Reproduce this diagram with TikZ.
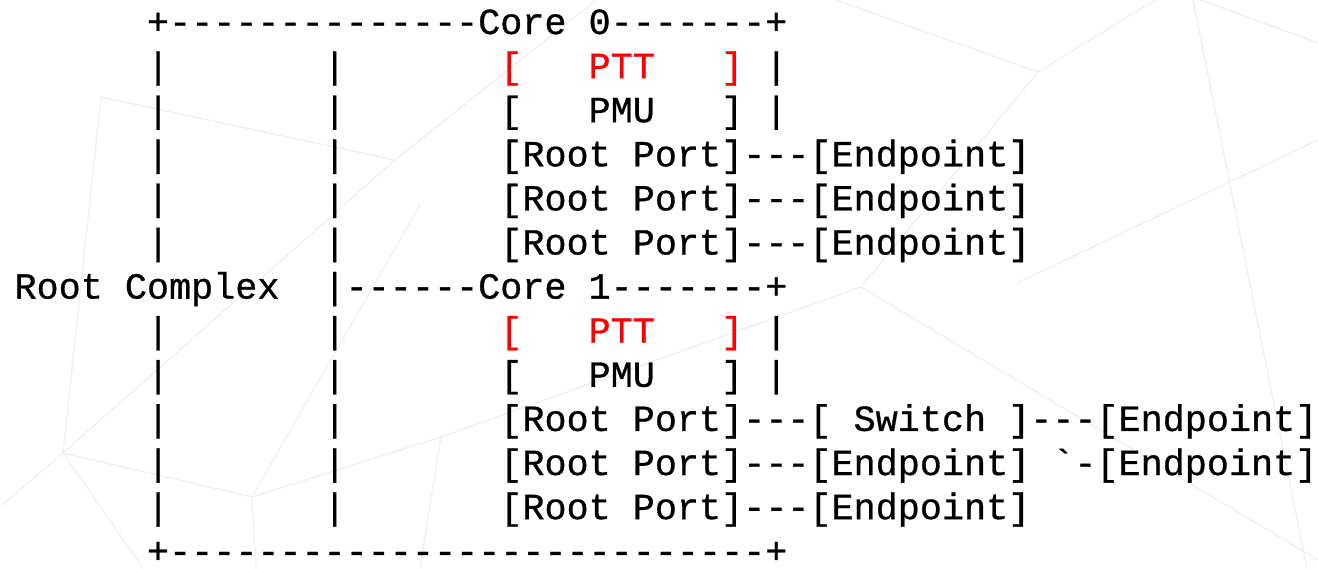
\documentclass[tikz,border=0pt]{standalone}
\usepackage{fontspec}
\setmonofont[FakeBold=0.8]{Liberation Mono}
\frenchspacing
\begin{document}
\begin{tikzpicture}[x=0.75pt,y=-0.75pt,
  txt/.style={anchor=base west,inner sep=0pt,outer sep=0pt,text depth=0pt,
    font=\ttfamily\fontsize{27.6}{33}\selectfont,text=black},
  mesh/.style={draw=black!6,line width=1.1pt,line cap=round}]
\useasboundingbox (0,0) rectangle (1318,568);

% faint low-poly backdrop
\coordinate (pA) at (101,97);
\coordinate (pB) at (395,160);
\coordinate (pD) at (63,453);
\coordinate (pE) at (252,497);
\coordinate (pF) at (441,437);
\coordinate (pG) at (861,287);
\coordinate (pH) at (1038,72);
\draw[mesh] (pA) -- (pB) -- (596,0);
\draw[mesh] (pA) -- (pD) -- (pB);
\draw[mesh] (pD) -- (0,507);
\draw[mesh] (pD) -- (143,568);
\draw[mesh] (pD) -- (pE) -- (pF) -- (pG) -- (pH) -- (836,0);
\draw[mesh] (pE) -- (256,568);
\draw[mesh] (pE) -- (420,205);
\draw[mesh] (pF) -- (420,568);
\draw[mesh] (pH) -- (1155,0);
\draw[mesh] (pG) -- (1318,560);
\draw[mesh] (1193,0) -- (1307,568);
\draw[mesh] (1201,0) -- (1318,43);
\draw[mesh] (1318,140) -- (1017,283);

% the ASCII diagram, one line per node
\node[txt] (r0)  at (14.5,34.0)  {~~~~~~+--------------Core~0-------+};
\node[txt] (r1)  at (14.5,78.1)  {~~~~~~|~~~~~~~|~~~~~~~\textcolor{red}{[~~~PTT~~~]}~|};
\node[txt] (r2)  at (14.5,122.2) {~~~~~~|~~~~~~~|~~~~~~~[~~~PMU~~~]~|};
\node[txt] (r3)  at (14.5,166.3) {~~~~~~|~~~~~~~|~~~~~~~[Root~Port]---[Endpoint]};
\node[txt] (r4)  at (14.5,210.4) {~~~~~~|~~~~~~~|~~~~~~~[Root~Port]---[Endpoint]};
\node[txt] (r5)  at (14.5,254.5) {~~~~~~|~~~~~~~|~~~~~~~[Root~Port]---[Endpoint]};
\node[txt] (r6)  at (14.5,298.6) {Root~Complex~~|------Core~1-------+};
\node[txt] (r7)  at (14.5,342.7) {~~~~~~|~~~~~~~|~~~~~~~\textcolor{red}{[~~~PTT~~~]}~|};
\node[txt] (r8)  at (14.5,386.8) {~~~~~~|~~~~~~~|~~~~~~~[~~~PMU~~~]~|};
\node[txt] (r9)  at (14.5,430.9) {~~~~~~|~~~~~~~|~~~~~~~[Root~Port]---[~Switch~]---[Endpoint]};
\node[txt] (r10) at (14.5,475.0) {~~~~~~|~~~~~~~|~~~~~~~[Root~Port]---[Endpoint]~`-[Endpoint]};
\node[txt] (r11) at (14.5,519.1) {~~~~~~|~~~~~~~|~~~~~~~[Root~Port]---[Endpoint]};
\node[txt] (r12) at (14.5,563.2) {~~~~~~+---------------------------+};
\end{tikzpicture}
\end{document}
